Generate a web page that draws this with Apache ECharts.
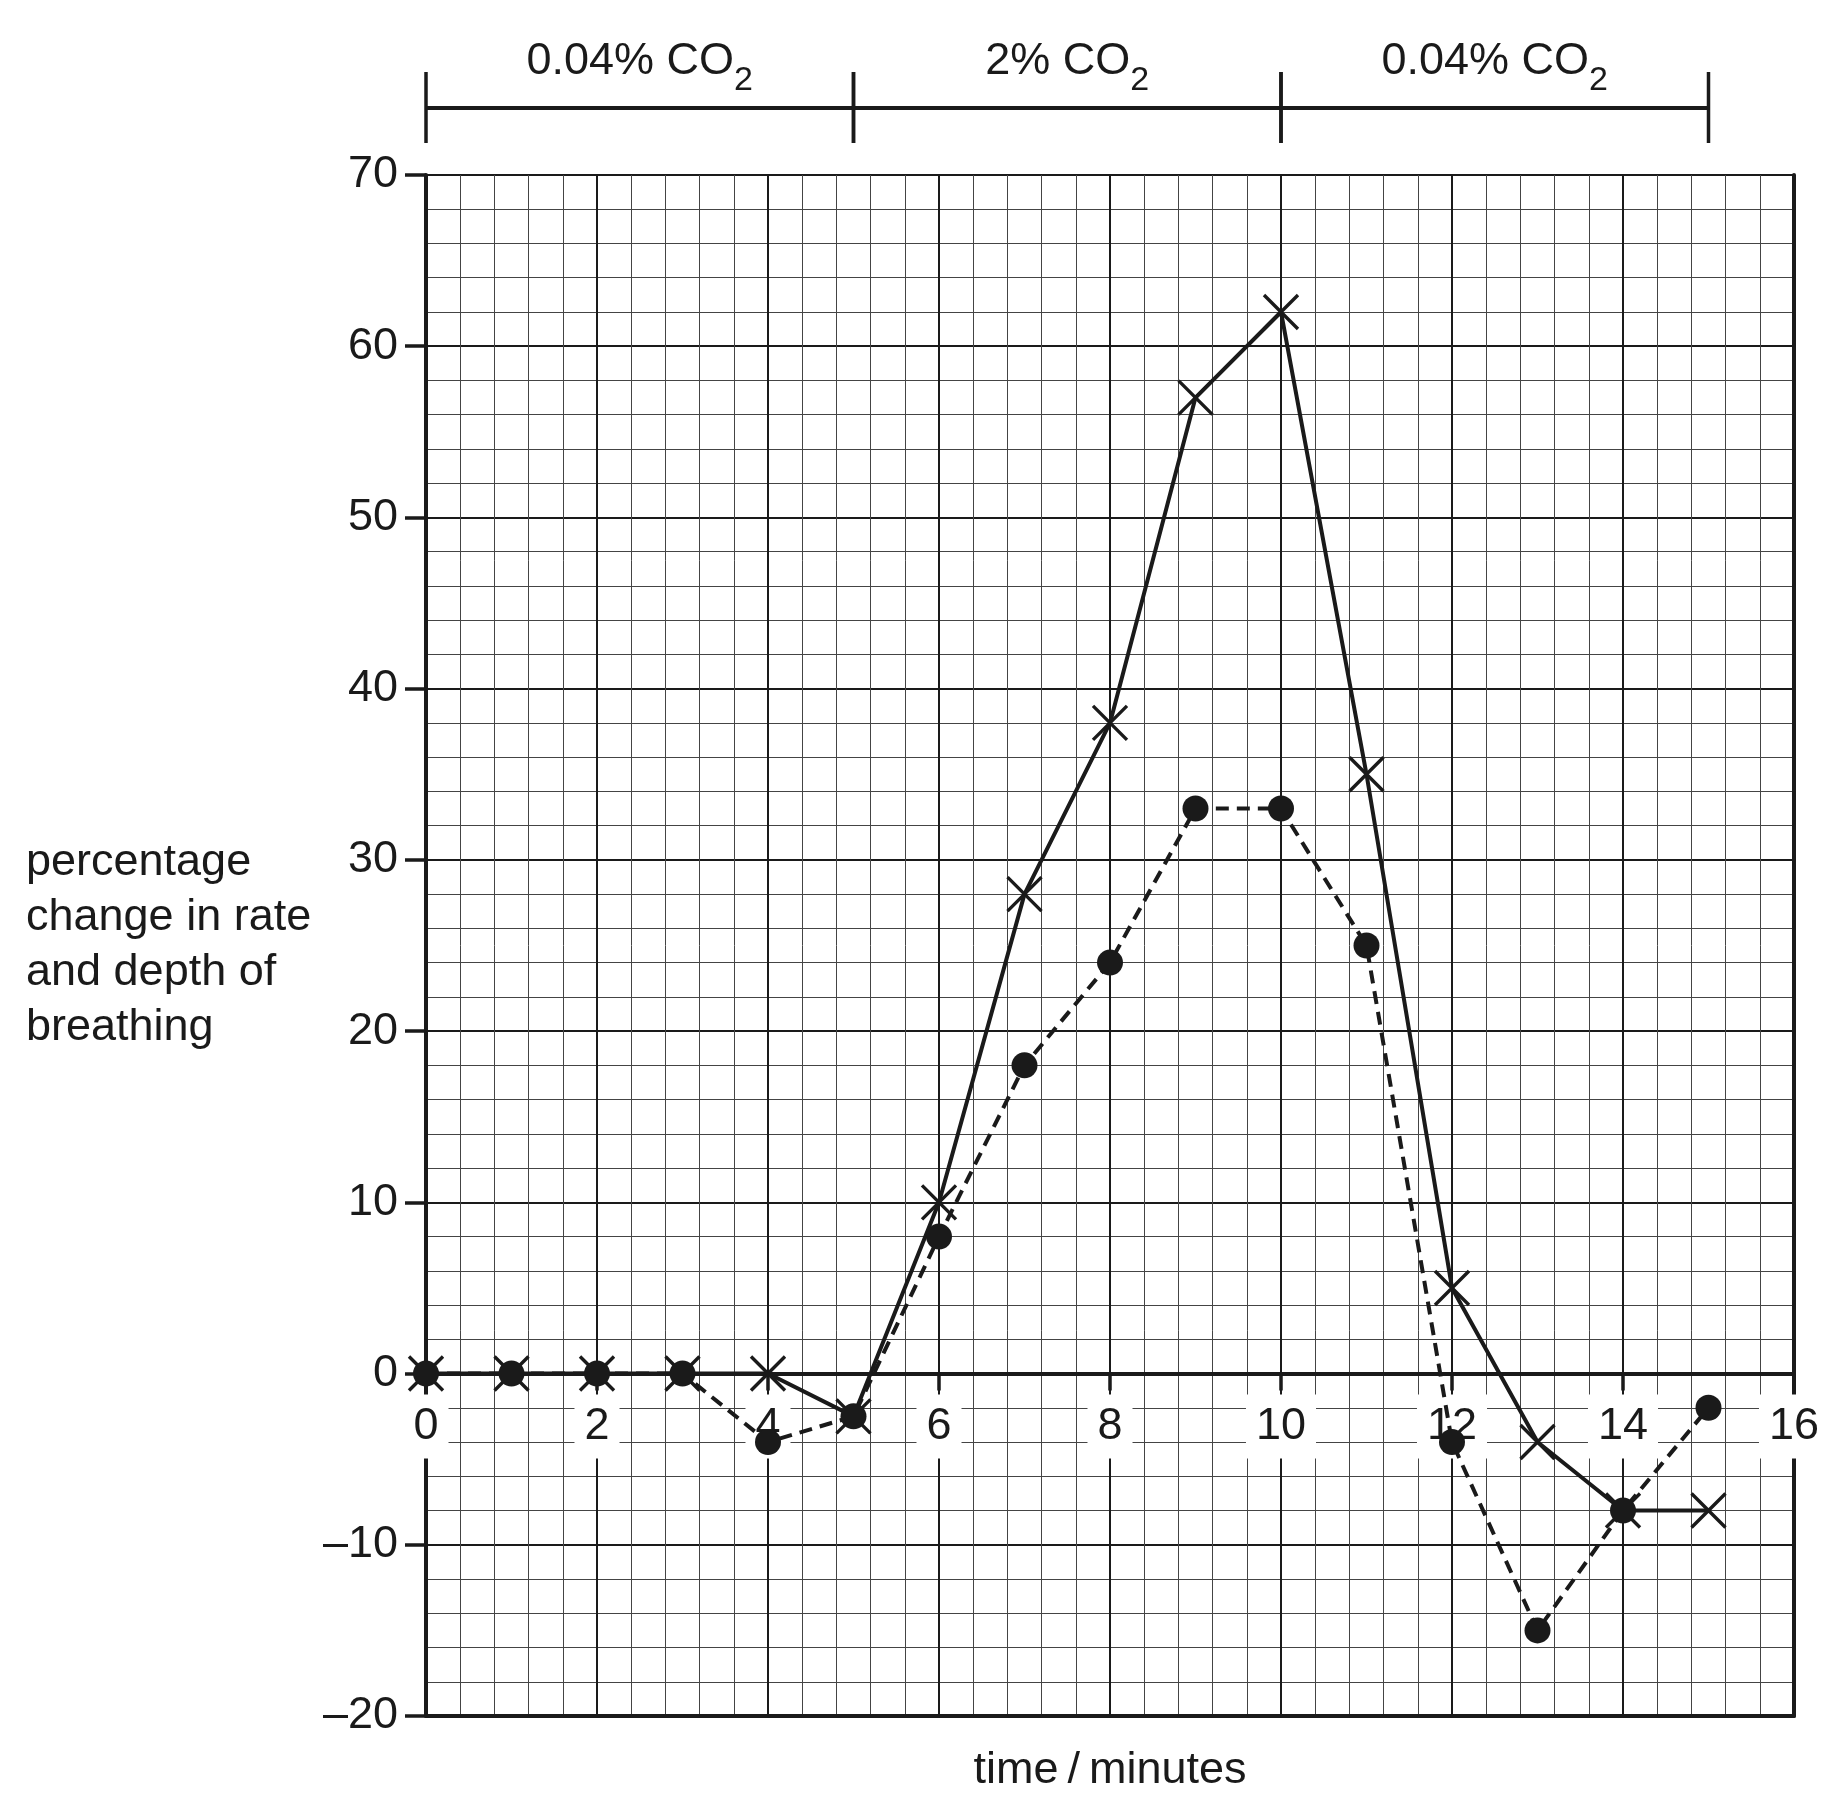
<!DOCTYPE html>
<html>
<head>
<meta charset="utf-8">
<script src="https://cdn.jsdelivr.net/npm/echarts@6/dist/echarts.min.js"></script>
<style>
  html, body { margin: 0; padding: 0; background: #fff; }
  #chart { width: 1838px; height: 1810px; }
</style>
</head>
<body>
<div id="chart"></div>
<script>
// time in minutes
const times = [0, 1, 2, 3, 4, 5, 6, 7, 8, 9, 10, 11, 12, 13, 14, 15];
// crosses, solid line
const crossValues = [0, 0, 0, 0, 0, -2.5, 10, 28, 38, 57, 62, 35, 5, -4, -8, -8];
// dots, dashed line
const dotValues = [0, 0, 0, 0, -4, -2.5, 8, 18, 24, 33, 33, 25, -4, -15, -8, -2];

// CO2 phases shown above the grid
const phaseStart = [0, 5, 10];
const phaseEnd = [5, 10, 15];
const phaseLabels = ['0.04% CO{sub|2}', '2% CO{sub|2}', '0.04% CO{sub|2}'];

const FONT = '"Liberation Sans", Arial, sans-serif';
const INK = '#1a1a1a';
const X_MIN = 0, X_MAX = 16;
const Y_MIN = -20, Y_MAX = 70;

// plot area
const G_LEFT = 426, G_RIGHT = 44, G_TOP = 175, G_BOTTOM = 94;
const H = 1810;
// second grid ends on the zero line so its x axis carries the time labels
const zeroY = G_TOP + (Y_MAX / (Y_MAX - Y_MIN)) * (H - G_TOP - G_BOTTOM);

const chart = echarts.init(document.getElementById('chart'));

function pair(xs, ys) {
  return xs.map((x, i) => [x, ys[i]]);
}

const option = {
  animation: false,
  backgroundColor: '#fff',
  grid: [
    { left: G_LEFT, right: G_RIGHT, top: G_TOP, bottom: G_BOTTOM },
    { left: G_LEFT, right: G_RIGHT, top: G_TOP, bottom: H - zeroY }
  ],
  xAxis: [{
    // grid lines
    type: 'value', gridIndex: 0,
    min: X_MIN, max: X_MAX, interval: 2,
    axisLine: { show: false },
    axisTick: { show: false },
    axisLabel: { show: false },
    splitLine: { show: true, lineStyle: { color: INK, width: 2 } },
    minorTick: { show: false, splitNumber: 5 },
    minorSplitLine: { show: true, lineStyle: { color: '#444', width: 1 } }
  }, {
    // bottom border + axis title
    type: 'value', gridIndex: 0,
    min: X_MIN, max: X_MAX,
    position: 'bottom',
    name: 'time\u2009/\u2009minutes',
    nameLocation: 'middle',
    nameGap: 55,
    nameTextStyle: { fontSize: 45, fontFamily: FONT, color: INK, verticalAlign: 'middle' },
    axisLine: { onZero: false, lineStyle: { color: INK, width: 4 } },
    axisTick: { show: false },
    axisLabel: { show: false },
    splitLine: { show: false }
  }, {
    // zero line with time labels
    type: 'value', gridIndex: 1,
    min: X_MIN, max: X_MAX, interval: 2,
    position: 'bottom',
    z: 3,
    axisLine: { onZero: false, lineStyle: { color: INK, width: 4 } },
    axisTick: { show: true, inside: false, length: 17, lineStyle: { color: INK, width: 3.5 } },
    axisLabel: {
      fontSize: 45, fontFamily: FONT, color: INK, lineHeight: 44,
      margin: 21, padding: [10, 10], backgroundColor: '#fff'
    },
    splitLine: { show: false }
  }],
  yAxis: [{
    type: 'value', gridIndex: 0,
    min: Y_MIN, max: Y_MAX, interval: 10,
    name: 'percentage\nchange in rate\nand depth of\nbreathing',
    nameLocation: 'middle',
    nameRotate: 0,
    nameGap: 400,
    nameTextStyle: {
      fontSize: 45, fontFamily: FONT, color: INK, lineHeight: 55,
      align: 'left', verticalAlign: 'middle'
    },
    axisLine: { show: true, onZero: false, lineStyle: { color: INK, width: 4 } },
    axisTick: { show: true, length: 21, lineStyle: { color: INK, width: 3.5 } },
    axisLabel: {
      fontSize: 45, fontFamily: FONT, color: INK, margin: 28,
      formatter: v => (v < 0 ? '\u2013' + (-v) : String(v))
    },
    splitLine: { show: true, lineStyle: { color: INK, width: 2 } },
    minorTick: { show: false, splitNumber: 5 },
    minorSplitLine: { show: true, lineStyle: { color: '#444', width: 1 } }
  }, {
    // right border
    type: 'value', gridIndex: 0,
    min: Y_MIN, max: Y_MAX,
    position: 'right',
    axisLine: { show: true, onZero: false, lineStyle: { color: INK, width: 4 } },
    axisTick: { show: false },
    axisLabel: { show: false },
    splitLine: { show: false }
  }, {
    type: 'value', gridIndex: 1,
    min: 0, max: Y_MAX,
    show: false
  }],
  series: [{
    type: 'custom',
    name: 'phases',
    xAxisIndex: 0, yAxisIndex: 0,
    clip: false,
    z: 10,
    silent: true,
    data: phaseStart.map((s, i) => [s, phaseEnd[i], i]),
    renderItem: function (params, api) {
      const a = api.coord([api.value(0), Y_MAX]);
      const b = api.coord([api.value(1), Y_MAX]);
      const top = a[1];
      const barY = top - 67;
      const lineStyle = { stroke: INK, lineWidth: 3.5 };
      return {
        type: 'group',
        children: [
          { type: 'line', shape: { x1: a[0], y1: barY, x2: b[0], y2: barY }, style: Object.assign({}, lineStyle, { lineWidth: 4 }) },
          { type: 'line', shape: { x1: a[0], y1: top - 103, x2: a[0], y2: top - 32 }, style: lineStyle },
          { type: 'line', shape: { x1: b[0], y1: top - 103, x2: b[0], y2: top - 32 }, style: lineStyle },
          {
            type: 'text',
            x: (a[0] + b[0]) / 2,
            y: top - 113,
            style: {
              text: phaseLabels[api.value(2)],
              fontSize: 45, fontFamily: FONT, fill: INK, lineHeight: 45,
              align: 'center', verticalAlign: 'middle',
              rich: {
                sub: { fontSize: 34, fontFamily: FONT, fill: INK, lineHeight: 34, padding: [38, 0, 0, 0] }
              }
            }
          }
        ]
      };
    }
  }, {
    type: 'line',
    name: 'crosses',
    xAxisIndex: 0, yAxisIndex: 0,
    z: 10,
    data: pair(times, crossValues),
    symbol: 'path://M0,0L10,10M10,0L0,10',
    symbolSize: 34,
    itemStyle: { color: 'none', borderColor: INK, borderWidth: 3.4 },
    lineStyle: { color: INK, width: 4 }
  }, {
    type: 'line',
    name: 'dots',
    xAxisIndex: 0, yAxisIndex: 0,
    z: 11,
    data: pair(times, dotValues),
    symbol: 'circle',
    symbolSize: 26,
    itemStyle: { color: INK, borderWidth: 0 },
    lineStyle: { color: INK, width: 4, type: [13, 8] }
  }]
};

chart.setOption(option);
</script>
</body>
</html>
